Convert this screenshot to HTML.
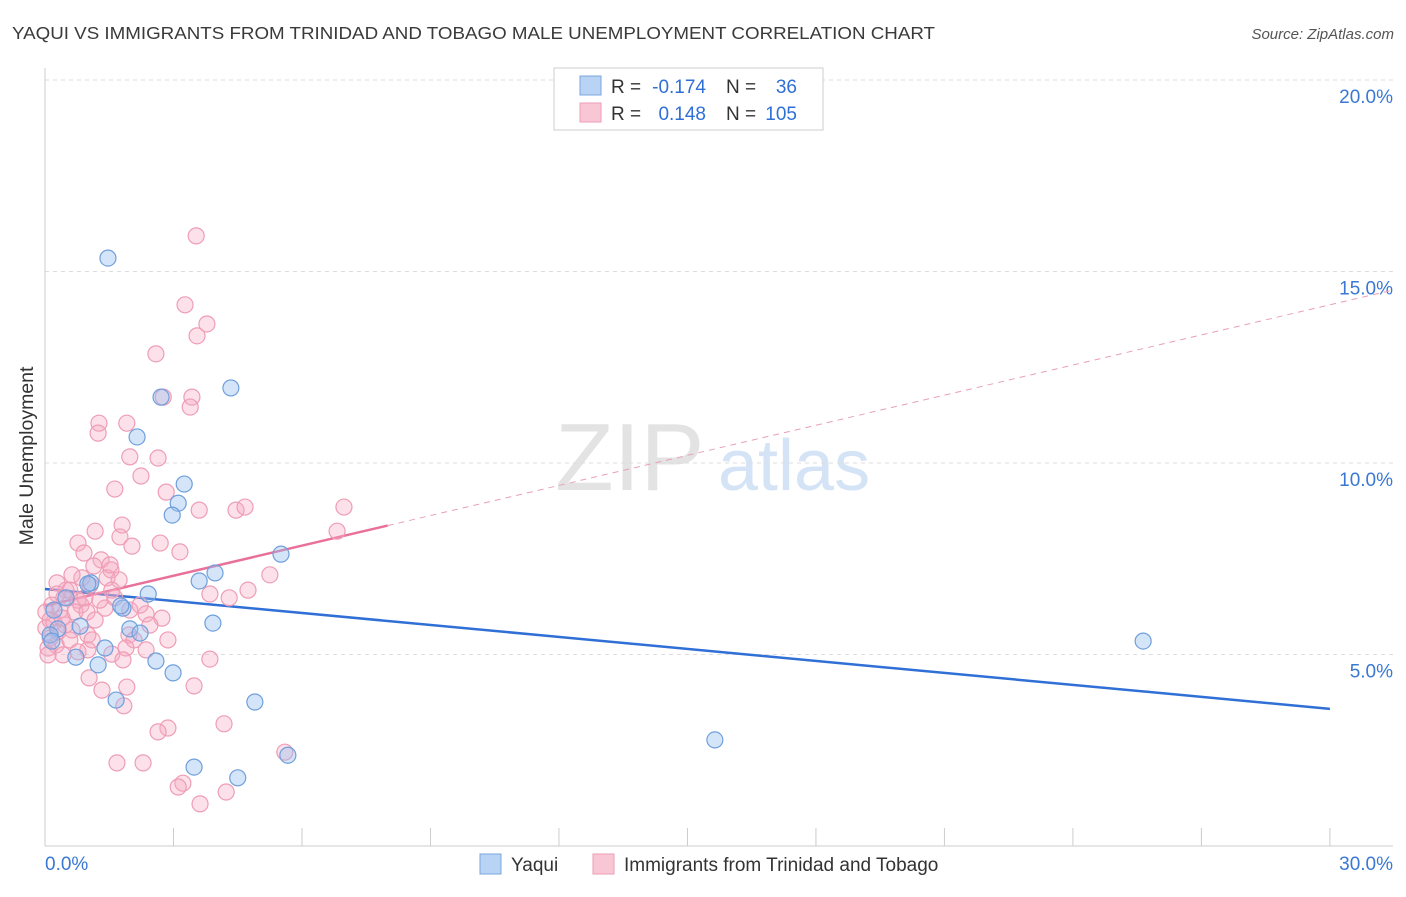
<!DOCTYPE html>
<html><head><meta charset="utf-8">
<style>
body{margin:0;background:#fff;font-family:"Liberation Sans",sans-serif;}
svg text{font-family:"Liberation Sans",sans-serif;}
</style></head>
<body>
<svg id="chart" width="1406" height="892" xmlns="http://www.w3.org/2000/svg">
<text x="12" y="39" font-size="17.5" fill="#3a3a3a" textLength="923" lengthAdjust="spacingAndGlyphs">YAQUI VS IMMIGRANTS FROM TRINIDAD AND TOBAGO MALE UNEMPLOYMENT CORRELATION CHART</text>
<text x="1394" y="39" font-size="15" fill="#555" text-anchor="end" font-style="italic">Source: ZipAtlas.com</text>
<text x="555" y="490" font-size="96" fill="#e3e3e3" font-family="Liberation Serif">ZIP</text>
<text x="718" y="490" font-size="72" fill="#d4e3f5">atlas</text>
<text transform="translate(33,456) rotate(-90)" font-size="19.5" fill="#333" text-anchor="middle">Male Unemployment</text>
<g id="grid"></g><g id="axes"></g><g id="lines"></g><g id="pts"></g>
<g>
<rect x="554" y="68" width="269" height="62" fill="#fff" stroke="#ccc"/>
<rect x="580" y="76" width="21" height="19" fill="#b8d3f3" stroke="#7aa5dd"/>
<rect x="580" y="103" width="21" height="19" fill="#f9c6d6" stroke="#ee9db5"/>
<text x="611" y="93" font-size="19" fill="#333">R =</text>
<text x="706" y="93" font-size="19" fill="#2f6fd6" text-anchor="end">-0.174</text>
<text x="726" y="93" font-size="19" fill="#333">N =</text>
<text x="797" y="93" font-size="19" fill="#2f6fd6" text-anchor="end">36</text>
<text x="611" y="120" font-size="19" fill="#333">R =</text>
<text x="706" y="120" font-size="19" fill="#2f6fd6" text-anchor="end">0.148</text>
<text x="726" y="120" font-size="19" fill="#333">N =</text>
<text x="797" y="120" font-size="19" fill="#2f6fd6" text-anchor="end">105</text>
</g>
<g>
<rect x="480" y="854" width="21" height="20" fill="#b8d3f3" stroke="#7aa5dd"/>
<text x="511" y="871" font-size="19" fill="#333">Yaqui</text>
<rect x="593" y="854" width="21" height="20" fill="#f9c6d6" stroke="#ee9db5"/>
<text x="624" y="871" font-size="19" fill="#333">Immigrants from Trinidad and Tobago</text>
</g>
</svg>
<script>
const yTicks=[5,10,15,20];
const xTickLabels=["0.0%","30.0%"];
const blueX=[1.47,4.34,2.71,2.15,3.25,3.11,2.97,5.51,3.97,3.6,2.41,1.07,1.82,1.77,3.92,1.98,2.22,0.82,0.30,0.12,0.16,1.40,0.72,2.59,1.24,2.99,1.66,4.9,15.64,3.48,4.5,5.67,25.64,0.49,0.21,1.0];
const blueY=[15.35,11.96,11.72,10.68,9.45,8.95,8.64,7.62,7.13,6.92,6.58,6.87,6.21,6.27,5.82,5.67,5.56,5.74,5.67,5.51,5.35,5.17,4.93,4.83,4.73,4.52,3.81,3.76,2.77,2.06,1.78,2.37,5.35,6.48,6.16,6.84];
const pinkPx=[[196,236],[185,305],[207,324],[197,336],[156,354],[192,397],[163,397],[190,407],[99,423],[127,423],[98,433],[158,458],[130,457],[141,476],[115,489],[166,492],[199,510],[236,510],[245,507],[344,507],[95,531],[122,525],[120,537],[78,543],[160,543],[132,546],[180,552],[84,553],[337,531],[101,560],[94,566],[111,570],[270,575],[82,578],[107,578],[119,580],[66,590],[90,585],[70,590],[248,590],[210,594],[229,598],[112,590],[57,594],[64,598],[78,600],[81,605],[52,605],[60,610],[75,612],[87,612],[105,608],[130,610],[146,614],[162,618],[54,622],[65,625],[72,630],[88,635],[46,628],[50,638],[56,645],[92,640],[129,635],[134,640],[168,640],[146,650],[126,648],[112,654],[78,652],[63,655],[48,648],[210,659],[123,660],[89,678],[102,690],[127,687],[194,686],[124,706],[224,724],[168,728],[158,732],[285,752],[117,763],[143,763],[183,783],[178,787],[226,792],[200,804],[46,612],[50,620],[58,632],[70,640],[100,600],[115,598],[140,605],[95,620],[150,625],[62,618],[85,598],[110,565],[57,583],[72,575],[48,655],[88,650]];
const pinkX=pinkPx.map(p=>+((p[0]-45)/42.83).toFixed(2));
const pinkY=pinkPx.map(p=>+((846-p[1])/38.3).toFixed(2));
const X=v=>45+v*42.83, Y=v=>846-v*38.3;
const NS="http://www.w3.org/2000/svg";
function mk(g,t,a){const e=document.createElementNS(NS,t);for(const k in a)e.setAttribute(k,a[k]);document.getElementById(g).appendChild(e);return e;}
yTicks.forEach(t=>{
 const l=mk('grid','line',{x1:45,x2:1393,y1:Y(t),y2:Y(t),stroke:'#ddd','stroke-dasharray':'4,4'});
 
 
 const tx=mk('axes','text',{x:1393,y:Y(t)+23,'font-size':19,fill:'#3a78d4','text-anchor':'end'});tx.textContent=t.toFixed(1)+'%';
 
 
});
mk('axes','line',{x1:45,x2:45,y1:68,y2:846,stroke:'#ccc'});
mk('axes','line',{x1:45,x2:1393,y1:846,y2:846,stroke:'#ccc'});
for(let i=0;i<=10;i++){const t=mk('axes','line',{x1:X(i*3),x2:X(i*3),y1:828,y2:846,stroke:'#ccc'});}
[[0,'start',45],[1,'end',1393]].forEach(([i,a,x])=>{const t=mk('axes','text',{x:x,y:870,'font-size':19,fill:'#3a78d4','text-anchor':a});t.textContent=xTickLabels[i];
 
 });
const ba=6.71,bb=-0.1043;
const bl=mk('lines','line',{x1:X(0),y1:Y(ba),x2:X(30),y2:Y(ba+bb*30),stroke:'#2f6fd6','stroke-width':2.5});

const pa=6.27,pb=0.262;
const pl=mk('lines','line',{x1:X(0),y1:Y(pa),x2:X(8),y2:Y(pa+pb*8),stroke:'#e8709a','stroke-width':2.5});

const pd=mk('lines','line',{x1:X(8),y1:Y(pa+pb*8),x2:X(31.47),y2:Y(pa+pb*31.47),stroke:'#e8a0b8','stroke-width':1,'stroke-dasharray':'6,5'});

pinkX.forEach((x,i)=>{const c=mk('pts','circle',{cx:X(x),cy:Y(pinkY[i]),r:8,fill:'rgba(245,170,195,0.35)',stroke:'#ee9db5','stroke-width':1.2});
 });
blueX.forEach((x,i)=>{const c=mk('pts','circle',{cx:X(x),cy:Y(blueY[i]),r:8,fill:'rgba(150,190,240,0.4)',stroke:'#6f9fdc','stroke-width':1.2});
 });
</script>
</body></html>
